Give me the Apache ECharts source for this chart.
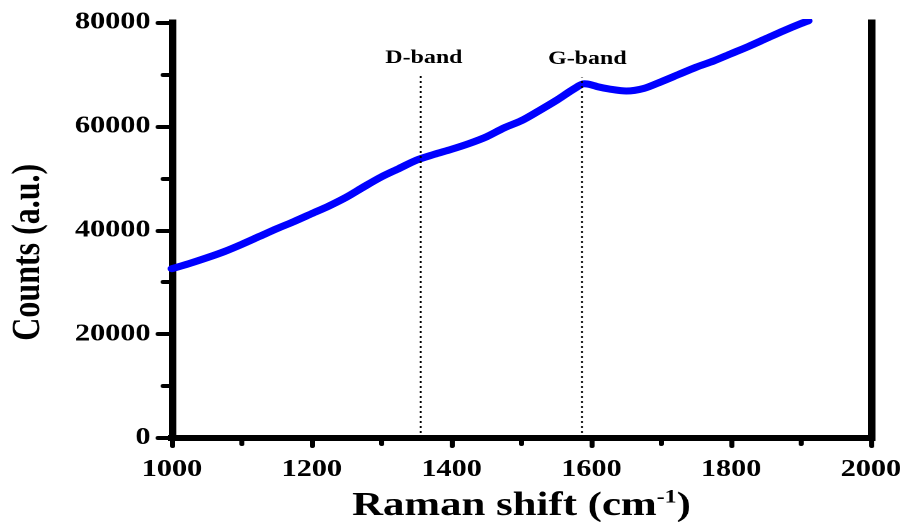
<!DOCTYPE html>
<html>
<head>
<meta charset="utf-8">
<script src="https://cdn.jsdelivr.net/npm/echarts@6/dist/echarts.min.js"></script>
<style>
  html, body { margin: 0; padding: 0; background: #fff; overflow: hidden; }
  /* the figure is drawn on a narrower canvas and widened horizontally */
  #chart { width: 720px; height: 522px; transform: scaleX(1.2597); transform-origin: 0 0; }
</style>
</head>
<body>
<div id="chart"></div>
<script>
// Raman spectrum: shift (cm-1) and detector counts
const ramanShift = [1000, 1025, 1050, 1075, 1100, 1125, 1150, 1175, 1200, 1225, 1250, 1275,
  1300, 1325, 1350, 1375, 1400, 1425, 1450, 1475, 1500, 1525, 1550, 1575, 1590, 1600, 1610,
  1625, 1650, 1675, 1700, 1725, 1750, 1775, 1800, 1825, 1850, 1875, 1900, 1910];
const counts = [32600, 33600, 34700, 35900, 37300, 38800, 40300, 41700, 43200, 44700, 46400, 48400,
  50300, 51900, 53500, 54600, 55600, 56700, 58000, 59700, 61100, 63000, 65000, 67200, 68200, 68000, 67600,
  67200, 66800, 67300, 68600, 70000, 71400, 72600, 74000, 75400, 76900, 78400, 79800, 80300];

// band markers
const bandNames = ['D-band', 'G-band'];
const bandShift = [1355, 1587];
const bandTop = [70200, 69400];

// axis ranges and tick steps
const xRange = [1000, 2000];
const xStep = 200;
const yRange = [0, 80000];
const yStep = 20000;

const FONT = '"Liberation Serif", "Times New Roman", serif';
const INK = '#000';

const chart = echarts.init(document.getElementById('chart'), null, { renderer: 'canvas', devicePixelRatio: 2 });

const frameLine = { show: true, lineStyle: { color: INK, width: 6, cap: 'square' } };
const plain = v => String(v);

chart.setOption({
  animation: false,
  backgroundColor: '#fff',
  grid: { left: 136.5, right: 28.6, top: 22.5, bottom: 84, outerBoundsMode: 'none', containLabel: false },
  xAxis: [{
    type: 'value',
    position: 'bottom',
    min: xRange[0], max: xRange[1], interval: xStep,
    offset: 4,
    axisLine: frameLine,
    axisTick: { show: true, inside: false, length: 8, lineStyle: { color: INK, width: 4, cap: 'round' } },
    minorTick: { show: true, splitNumber: 2, length: 6, lineStyle: { color: INK, width: 4, cap: 'round' } },
    splitLine: { show: false },
    minorSplitLine: { show: false },
    axisLabel: { color: INK, fontFamily: FONT, fontWeight: 'bold', fontSize: 24, margin: 16, formatter: plain },
    name: '{n|Raman shift (cm}{s|-1}{n|)}',
    nameLocation: 'middle',
    nameGap: 46,
    nameTextStyle: {
      rich: {
        n: { fontFamily: FONT, fontWeight: 'bold', fontSize: 34, color: INK, lineHeight: 36 },
        s: { fontFamily: FONT, fontWeight: 'bold', fontSize: 19, color: INK, lineHeight: 36, verticalAlign: 'top', padding: [0, 0, 12, 0] }
      }
    }
  }, {
    type: 'value',
    position: 'top',
    min: xRange[0], max: xRange[1], interval: xStep,
    axisLine: frameLine,
    axisTick: { show: false }, axisLabel: { show: false }, splitLine: { show: false }
  }],
  yAxis: [{
    type: 'value',
    position: 'left',
    min: yRange[0], max: yRange[1], interval: yStep,
    axisLine: frameLine,
    axisTick: { show: true, inside: false, length: 11, lineStyle: { color: INK, width: 4, cap: 'round' } },
    minorTick: { show: true, splitNumber: 2, length: 7, lineStyle: { color: INK, width: 4, cap: 'round' } },
    splitLine: { show: false },
    minorSplitLine: { show: false },
    axisLabel: { color: INK, fontFamily: FONT, fontWeight: 'bold', fontSize: 24, margin: 17, formatter: plain },
    name: 'Counts (a.u.)',
    nameLocation: 'middle',
    nameRotate: 90,
    nameGap: 98,
    nameTextStyle: { color: INK, fontFamily: FONT, fontWeight: 'bold', fontSize: 32, padding: [0, 44, 0, 0] }
  }, {
    type: 'value',
    position: 'right',
    min: yRange[0], max: yRange[1], interval: yStep,
    axisLine: frameLine,
    axisTick: { show: false }, axisLabel: { show: false }, splitLine: { show: false }
  }],
  series: [{
    type: 'line',
    xAxisIndex: 0, yAxisIndex: 0,
    data: ramanShift.map((x, i) => [x, counts[i]]),
    showSymbol: false,
    smooth: 0.3,
    clip: true,
    lineStyle: { color: '#0000ff', width: 7, cap: 'round', join: 'round' },
    markLine: {
      silent: true,
      symbol: ['none', 'none'],
      lineStyle: { color: INK, width: 1.5, type: [2, 3] },
      label: { show: true, position: 'end', distance: 6, color: INK, fontFamily: FONT, fontWeight: 'bold', fontSize: 19 },
      data: bandNames.map((name, i) => [
        { coord: [bandShift[i], 0] },
        {
          coord: [bandShift[i], bandTop[i]],
          label: { formatter: name, distance: i === 0 ? 6 : 9, offset: [i === 0 ? 3 : 4, 0] }
        }
      ])
    }
  }]
});
</script>
</body>
</html>
